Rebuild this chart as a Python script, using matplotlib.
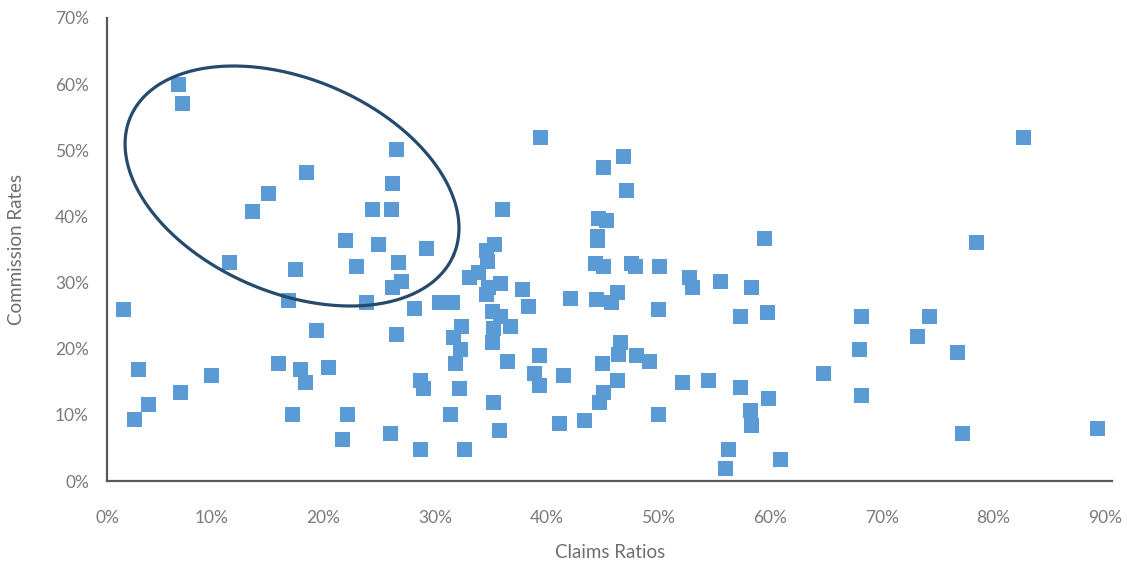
import numpy as np
import matplotlib
matplotlib.use("Agg")
import matplotlib.pyplot as plt
import matplotlib.transforms as mtransforms
from matplotlib.ticker import FuncFormatter

plt.rcParams['font.family'] = ['Lato', 'DejaVu Sans']

# Claims ratio (%) and commission rate (%) for each company
claims_ratios = [
    6.4, 6.7, 17.8, 14.4, 13.0, 25.9, 25.5, 25.4, 23.7, 21.3,
    24.3, 28.6, 10.9, 16.8, 22.3, 26.1, 26.3, 25.5, 16.2, 23.2,
    1.4, 18.7, 25.9, 27.5, 2.8, 9.3, 15.3, 17.3, 17.7, 19.8,
    3.7, 2.4, 6.5, 16.6, 21.5, 21.0, 25.3, 28.0, 28.3, 28.0,
    32.0, 31.5, 30.7, 34.6, 35.1, 38.7, 38.2, 38.7, 40.8, 40.5,
    42.7, 38.8, 46.2, 44.4, 46.5, 35.4, 44.0, 44.7, 43.9, 43.9,
    33.9, 34.7, 34.0, 43.7, 44.4, 46.9, 47.3, 49.4, 52.1, 52.4,
    54.9, 57.7, 32.4, 33.2, 34.1, 33.9, 35.2, 37.2, 37.7, 41.5,
    43.8, 45.1, 45.7, 49.3, 56.7, 59.1, 29.7, 30.9, 34.5, 35.2,
    36.1, 31.7, 34.6, 31.0, 31.6, 31.2, 34.5, 35.8, 45.9, 45.8,
    47.4, 48.5, 44.3, 45.7, 44.4, 44.1, 49.3, 51.5, 53.8, 56.7,
    59.2, 57.6, 57.7, 55.6, 55.3, 60.3, 82.0, 77.8, 58.8, 67.5,
    73.6, 72.5, 67.3, 76.1, 64.1, 67.5, 76.6, 88.7,
]
commission_rates = [
    60.0, 57.1, 46.7, 43.5, 40.8, 50.2, 45.0, 41.1, 41.1, 36.5,
    35.9, 35.3, 33.1, 32.0, 32.5, 33.1, 30.2, 29.4, 27.4, 27.1,
    26.0, 22.9, 22.3, 26.1, 17.0, 16.1, 17.9, 17.0, 14.9, 17.2,
    11.7, 9.3, 13.4, 10.2, 10.1, 6.3, 7.2, 15.2, 14.0, 4.9,
    4.9, 14.0, 10.1, 11.9, 7.7, 19.0, 16.4, 14.5, 16.0, 8.7,
    9.2, 52.0, 49.2, 47.4, 44.0, 41.1, 39.7, 39.4, 37.0, 36.4,
    35.0, 35.9, 33.2, 32.9, 32.5, 32.9, 32.5, 32.5, 30.9, 29.4,
    30.2, 29.4, 30.9, 31.6, 29.4, 28.2, 30.0, 29.0, 26.4, 27.6,
    27.5, 27.0, 28.5, 26.0, 24.9, 25.5, 27.0, 27.0, 25.7, 24.9,
    23.5, 23.5, 23.1, 21.7, 19.9, 17.9, 21.0, 18.2, 21.0, 19.2,
    19.0, 18.1, 17.9, 15.2, 13.4, 11.9, 10.1, 14.9, 15.2, 14.2,
    12.5, 10.8, 8.4, 4.9, 1.9, 3.4, 52.0, 36.2, 36.7, 24.9,
    24.9, 21.9, 19.9, 19.5, 16.3, 13.0, 7.2, 8.0,
]

x_ticks = [0, 10, 20, 30, 40, 50, 60, 70, 80, 90]
y_ticks = [0, 10, 20, 30, 40, 50, 60, 70]

# highlighted cluster outline (data centre, semi-axes in pixels, tilt in degrees)
ellipse_center = (16.57, 44.6)
ellipse_axes_px = (175.7, 106.8)
ellipse_tilt = -23.1

W, H, DPI = 1127, 565, 100
fig = plt.figure(figsize=(W / DPI, H / DPI), dpi=DPI)
left, right, bottom, top = 107 / W, 1112 / W, (H - 481) / H, (H - 18) / H
ax = fig.add_axes([left, bottom, right - left, top - bottom])

ax.scatter(claims_ratios, commission_rates, marker='s', s=(15 * 72 / DPI) ** 2,
           color='#5B9BD5', linewidths=0, zorder=3, clip_on=False)

ax.set_xlim(0, 90)
ax.set_ylim(0, 70)
ax.set_xticks(x_ticks)
ax.set_yticks(y_ticks)
ax.xaxis.set_major_formatter(FuncFormatter(lambda v, p: f"{int(round(v))}%"))
ax.yaxis.set_major_formatter(FuncFormatter(lambda v, p: f"{int(round(v))}%"))

# ellipse drawn in pixel space, converted to data units
sx = (right - left) * W / 90.0
sy = (top - bottom) * H / 70.0
t = np.linspace(0, 2 * np.pi, 400)
th = np.deg2rad(ellipse_tilt)
a, b = ellipse_axes_px
ex = ellipse_center[0] + (a * np.cos(t) * np.cos(th) - b * np.sin(t) * np.sin(th)) / sx
ey = ellipse_center[1] + (a * np.cos(t) * np.sin(th) + b * np.sin(t) * np.cos(th)) / sy
ax.plot(ex, ey, color='#254A6C', lw=2.3, zorder=4, clip_on=False, solid_capstyle='round')

for s in ['top', 'right']:
    ax.spines[s].set_visible(False)
for s in ['left', 'bottom']:
    ax.spines[s].set_color('#595959')
    ax.spines[s].set_linewidth(1.6)

ax.tick_params(axis='both', length=0, labelsize=12.5, labelcolor='#7A7A7A')
ax.tick_params(axis='x', pad=21)
ax.tick_params(axis='y', pad=13)

# labels in the reference sit a few pixels left of their tick
shift = mtransforms.ScaledTranslation(-5 / 72, 0, fig.dpi_scale_trans)
for lbl in ax.get_xticklabels()[1:]:
    lbl.set_transform(lbl.get_transform() + shift)

ax.set_xlabel('Claims Ratios', fontsize=13.5, color='#6E6E6E', va='center')
ax.xaxis.set_label_coords((610 - 107) / 1005, (481 - 553) / 463)
ax.set_ylabel('Commission Rates', fontsize=13.5, color='#6E6E6E', va='center')
ax.yaxis.set_label_coords((17 - 107) / 1005, 0.5)

fig.savefig('out.png', dpi=DPI, facecolor='white')
